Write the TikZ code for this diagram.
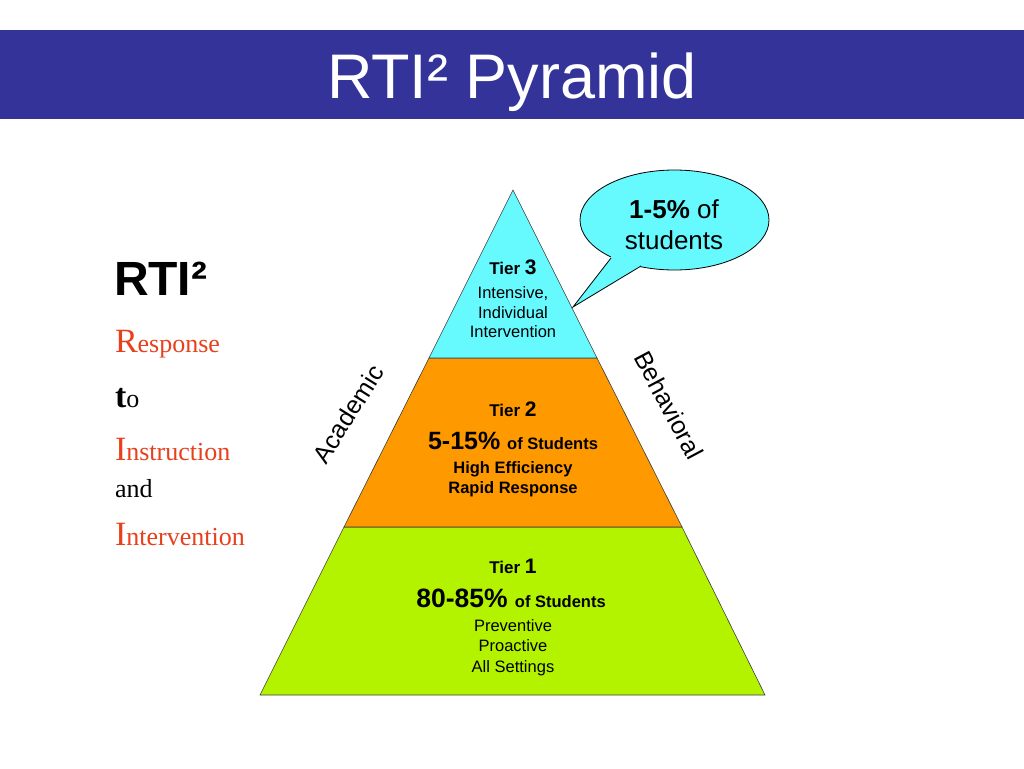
\documentclass[tikz,border=0pt]{standalone}
\usepackage{fontspec}
\setmainfont{Liberation Sans}
\newfontfamily\serifrm{Liberation Serif}
\usetikzlibrary{shapes.geometric}
\definecolor{titleblue}{RGB}{51,51,153}
\definecolor{tthree}{RGB}{102,250,255}
\definecolor{ttwo}{RGB}{255,153,0}
\definecolor{tone}{RGB}{179,243,0}
\definecolor{rred}{RGB}{232,64,28}
\definecolor{edge}{RGB}{60,60,60}
\tikzset{
  ln/.style={anchor=base, inner sep=0pt, outer sep=0pt},
  tierpoly/.style={draw=edge, line width=0.6pt, line join=miter},
  bubble/.style={draw=black, line width=0.8pt, fill=tthree},
}
\newcommand{\fsz}[1]{\fontsize{#1}{#1}\selectfont}
\begin{document}
\begin{tikzpicture}[x=1pt,y=-1pt]
\useasboundingbox (0,0) rectangle (1024,768);
\fill[white] (0,0) rectangle (1024,768);
% title bar
\fill[titleblue] (0,30) rectangle (1024,119);
\node[ln, text=white, font=\fsz{63}] (title) at (512,98) {RTI² Pyramid};

% pyramid
\coordinate (apex) at (513,190);
\coordinate (l3) at (429,358);
\coordinate (r3) at (597,358);
\coordinate (l2) at (344,527);
\coordinate (r2) at (682,527);
\coordinate (bl) at (260,695);
\coordinate (br) at (765,695);
\filldraw[tierpoly, fill=tone] (l2) -- (r2) -- (br) -- (bl) -- cycle;
\filldraw[tierpoly, fill=ttwo] (l3) -- (r3) -- (r2) -- (l2) -- cycle;
\filldraw[tierpoly, fill=tthree] (apex) -- (r3) -- (l3) -- cycle;

% tier 3 text
\node[ln, font=\bfseries] (t3a) at (513,274) {\fsz{17}Tier \fsz{21}3};
\node[ln, font=\fsz{16.5}] (t3b) at (513,298) {Intensive,};
\node[ln, font=\fsz{16.5}] (t3c) at (513,318) {Individual};
\node[ln, font=\fsz{16.5}] (t3d) at (513,337) {Intervention};

% tier 2 text
\node[ln, font=\bfseries] (t2a) at (513,416) {\fsz{17}Tier \fsz{21}2};
\node[ln, font=\bfseries] (t2b) at (513,449) {\fsz{25}5-15\% \fsz{16.5}of Students};
\node[ln, font=\bfseries\fsz{16.5}] (t2c) at (513,473) {High Efficiency};
\node[ln, font=\bfseries\fsz{16.5}] (t2d) at (513,493) {Rapid Response};

% tier 1 text
\node[ln, font=\bfseries] (t1a) at (513,573) {\fsz{17}Tier \fsz{21}1};
\node[ln, font=\bfseries] (t1b) at (511,607) {\fsz{26.5}80-85\% \fsz{16.5}of Students};
\node[ln, font=\fsz{16.5}] (t1c) at (513,631) {Preventive};
\node[ln, font=\fsz{16.5}] (t1d) at (513,651) {Proactive};
\node[ln, font=\fsz{16.5}] (t1e) at (513,672) {All Settings};

% side labels
\node[rotate=58, font=\fsz{25}, inner sep=0pt] (acad) at (348,414) {Academic};
\node[rotate=-62, font=\fsz{25}, inner sep=0pt] (behav) at (669,405) {Behavioral};

% callout
\node[bubble, ellipse, minimum width=189, minimum height=100, inner sep=0pt] (callout) at (674.5,220) {};
\coordinate (pa) at (611,258);
\coordinate (tip) at (573,307);
\coordinate (pb) at (641,266);
\fill[tthree] (pa) -- (tip) -- (pb) -- (641,252) -- (611,246) -- cycle;
\draw[line width=0.8pt, line join=miter] (pa) -- (tip) -- (pb);
\node[ln, font=\fsz{26}] (c1) at (674,218) {\bfseries 1-5\%\mdseries{} of};
\node[ln, font=\fsz{26}] (c2) at (674,249) {students};

% left acronym
\node[ln, anchor=base west, font=\bfseries\fsz{48}] (rti) at (114,295) {RTI²};
\node[ln, anchor=base west] (resp) at (115,352) {\serifrm\color{rred}\fsz{34}R\fsz{26}esponse};
\node[ln, anchor=base west] (to) at (115,407) {\serifrm\fsz{34}\bfseries t\mdseries\fsz{26}o};
\node[ln, anchor=base west] (instr) at (115,460) {\serifrm\color{rred}\fsz{34}I\fsz{26}nstruction};
\node[ln, anchor=base west] (and) at (115,497) {\serifrm\fsz{26}and};
\node[ln, anchor=base west] (interv) at (115,545) {\serifrm\color{rred}\fsz{34}I\fsz{26}ntervention};
\end{tikzpicture}
\end{document}
